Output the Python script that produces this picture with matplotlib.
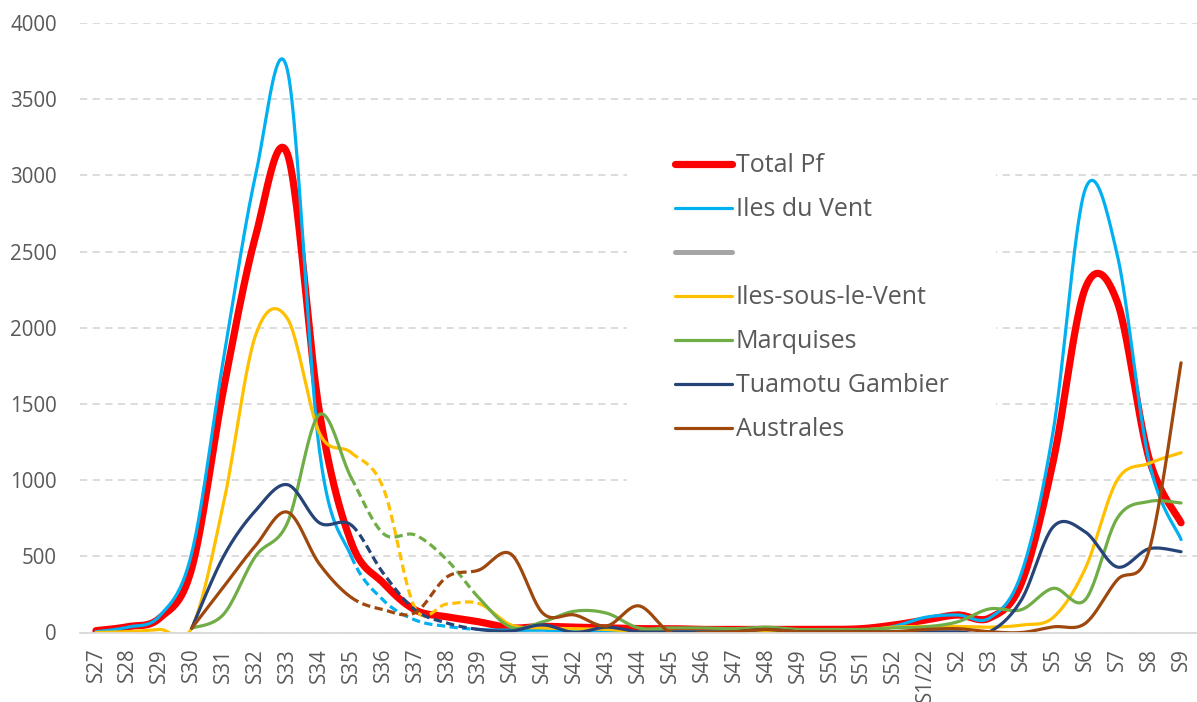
import numpy as np
import matplotlib.pyplot as plt
from matplotlib.lines import Line2D

weeks = ["S27", "S28", "S29", "S30", "S31", "S32", "S33", "S34", "S35", "S36",
         "S37", "S38", "S39", "S40", "S41", "S42", "S43", "S44", "S45", "S46",
         "S47", "S48", "S49", "S50", "S51", "S52", "S1/22", "S2", "S3", "S4",
         "S5", "S6", "S7", "S8", "S9"]

nan = np.nan
total_pf = [12, 38, 95, 420, 1600, 2600, 3140, 1450, 590, 325,
            148, 103, 70, 30, 40, 35, 30, 25, 25, 20,
            20, 20, 20, 20, 25, 49, 82, 115, 95, 325,
            1130, 2260, 2170, 1140, 720]
iles_du_vent = [5, 35, 110, 520, 1800, 3000, 3690, 1200, 500, 213,
                82, 40, 20, 15, 15, 5, 5, 5, 5, 5,
                5, 5, 5, 5, 10, 40, 100, 115, 95, 390,
                1330, 2910, 2480, 1120, 610]
iles_sous_le_vent = [0, 5, 20, 30, 850, 1950, 2060, 1310, 1180, 950,
                     160, 187, 190, 50, 30, 25, 20, 5, 5, 5,
                     5, 5, 10, 10, 15, 35, 40, 40, 35, 49,
                     100, 420, 1000, 1110, 1180]
marquises = [nan, nan, nan, 28, 120, 500, 720, 1430, 1015, 650,
             640, 476, 227, 35, 70, 140, 127, 30, 30, 30,
             25, 35, 20, 20, 20, 30, 37, 70, 155, 150,
             290, 215, 750, 860, 850]
tuamotu = [nan, nan, nan, 28, 500, 800, 970, 720, 705, 390,
           148, 62, 20, 10, 50, 0, 35, 5, 5, 5,
           5, 20, 5, 5, 5, 5, 5, 5, 5, 215,
           695, 660, 430, 550, 530]
australes = [nan, nan, nan, 28, 300, 570, 790, 450, 230, 150,
             130, 365, 410, 515, 127, 115, 43, 175, 0, 0,
             5, 20, 5, 5, 5, 5, 20, 25, 5, 0,
             37, 60, 345, 540, 1770]

dash_from, dash_to = 8, 12   # S35 -> S39 drawn dashed


def bezier_segments(y):
    # Excel-like smooth line: cubic Bezier between neighbours
    y = np.asarray(y, float)
    x = np.arange(len(y), dtype=float)
    idx = np.where(~np.isnan(y))[0]
    segs = {}
    t = np.linspace(0, 1, 25)
    for k in range(len(idx) - 1):
        i0, i1 = idx[k], idx[k + 1]
        ip = idx[k - 1] if k > 0 else i0
        iq = idx[k + 2] if k + 2 < len(idx) else i1
        p0 = np.array([x[i0], y[i0]])
        p3 = np.array([x[i1], y[i1]])
        p1 = p0 + (p3 - np.array([x[ip], y[ip]])) / 6
        p2 = p3 - (np.array([x[iq], y[iq]]) - p0) / 6
        pts = ((1 - t) ** 3)[:, None] * p0 + (3 * (1 - t) ** 2 * t)[:, None] * p1 \
            + (3 * (1 - t) * t ** 2)[:, None] * p2 + (t ** 3)[:, None] * p3
        segs[i0] = pts
    return segs


def draw(ax, y, color, lw, dashed=True):
    segs = bezier_segments(y)
    solid_a, solid_b, dash = [], [], []
    for i, pts in sorted(segs.items()):
        if dashed and dash_from <= i < dash_to:
            dash.append(pts)
        elif i < dash_from:
            solid_a.append(pts)
        else:
            solid_b.append(pts)
    for part in (solid_a, solid_b):
        if part:
            p = np.vstack(part)
            ax.plot(p[:, 0], p[:, 1], color=color, lw=lw,
                    solid_capstyle="round", solid_joinstyle="round")
    if dash:
        p = np.vstack(dash)
        ax.plot(p[:, 0], p[:, 1], color=color, lw=lw, ls=(0, (2.6, 1.4)),
                dash_capstyle="butt")


plt.rcParams['font.family'] = ['Open Sans', 'DejaVu Sans']
fig = plt.figure(figsize=(11.97, 7.02), dpi=100)
ax = fig.add_axes([80 / 1197, 69.5 / 702, 1 - 80 / 1197, (632.5 - 23) / 702])

grey = "#595959"
draw(ax, total_pf, "#FF0000", 5.2, dashed=False)
draw(ax, iles_du_vent, "#00B0F0", 2.3)
draw(ax, iles_sous_le_vent, "#FFC000", 2.3)
draw(ax, marquises, "#70AD47", 2.3)
draw(ax, tuamotu, "#264478", 2.3)
draw(ax, australes, "#9E480E", 2.3)

ax.set_xlim(-0.5, len(weeks) - 0.5)
ax.set_ylim(0, 4000)
ax.set_yticks(range(0, 4001, 500))
ax.set_xticks(range(len(weeks)))
ax.set_xticklabels(weeks, rotation=90)
ax.tick_params(axis="both", length=0, labelsize=14.8, colors=grey)
ax.tick_params(axis="y", pad=16.5)
ax.tick_params(axis="x", pad=11)
ax.grid(axis="y", color="#D9D9D9", lw=1.3, ls=(0, (4, 3)))
ax.set_axisbelow(True)
for s in ["top", "right", "left"]:
    ax.spines[s].set_visible(False)
ax.spines["bottom"].set_color("#D9D9D9")
ax.spines["bottom"].set_linewidth(1.3)

handles = [Line2D([], [], color="#FF0000", lw=5.2, solid_capstyle="round"),
           Line2D([], [], color="#00B0F0", lw=2.3, solid_capstyle="round"),
           Line2D([], [], color="#A5A5A5", lw=3.6, solid_capstyle="round"),
           Line2D([], [], color="#FFC000", lw=2.3, solid_capstyle="round"),
           Line2D([], [], color="#70AD47", lw=2.3, solid_capstyle="round"),
           Line2D([], [], color="#264478", lw=2.3, solid_capstyle="round"),
           Line2D([], [], color="#9E480E", lw=2.3, solid_capstyle="round")]
labels = ["Total Pf", "Iles du Vent", "", "Iles-sous-le-Vent", "Marquises",
          "Tuamotu Gambier", "Australes"]
leg = ax.legend(handles, labels, loc="upper left",
                bbox_to_anchor=(627 / 1197, 1 - 106 / 702),
                bbox_transform=fig.transFigure, frameon=True, fancybox=False,
                facecolor="white", edgecolor="none", framealpha=1,
                fontsize=18, handlelength=2.28, handletextpad=0.16,
                labelspacing=0.76, borderpad=1.9, borderaxespad=0)
for t in leg.get_texts():
    t.set_color(grey)

fig.savefig("out.png", dpi=100)
